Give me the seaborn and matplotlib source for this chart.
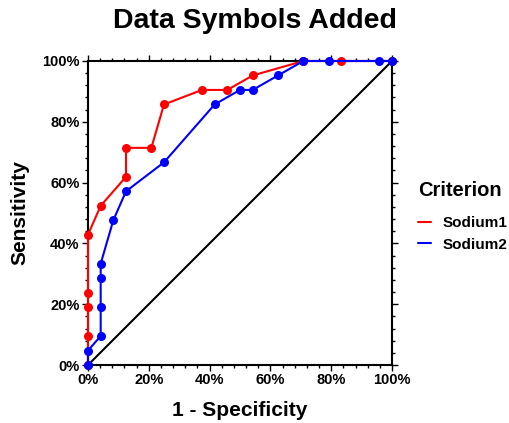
import matplotlib
matplotlib.use("Agg")
import matplotlib.pyplot as plt
from matplotlib.lines import Line2D
from matplotlib.ticker import MultipleLocator, FuncFormatter
import seaborn as sns
import pandas as pd

sns.set_style("white")
plt.rcParams['font.family'] = ['Liberation Sans', 'DejaVu Sans']
plt.rcParams['font.weight'] = 'bold'
for k in ['text.color', 'axes.labelcolor', 'xtick.color', 'ytick.color', 'axes.edgecolor']:
    plt.rcParams[k] = 'black'

# Data (percent)
sodium1_fpr = [0, 0, 0, 0, 0, 4.17, 12.5, 12.5, 20.83, 25.0, 37.5, 45.83, 54.17, 70.83, 83.33, 100]
sodium1_tpr = [0, 9.52, 19.05, 23.81, 42.86, 52.38, 61.90, 71.43, 71.43, 85.71, 90.48, 90.48, 95.24, 100, 100, 100]
sodium2_fpr = [0, 0, 4.17, 4.17, 4.17, 4.17, 8.33, 12.5, 25.0, 41.67, 50.0, 54.17, 62.5, 70.83, 79.17, 95.83, 100]
sodium2_tpr = [0, 4.76, 9.52, 19.05, 28.57, 33.33, 47.62, 57.14, 66.67, 85.71, 90.48, 90.48, 95.24, 100, 100, 100, 100]
ref_x = [0, 100]
ref_y = [0, 100]
series_names = ["Sodium1", "Sodium2"]
series_colors = ["#FF0000", "#0000FF"]

fig = plt.figure(figsize=(5.09, 4.23), dpi=100)
ax = fig.add_axes([88/509, 58/423, 304/509, 304/423])

sns.lineplot(x=ref_x, y=ref_y, ax=ax, color="black", linewidth=1.5, sort=False, estimator=None)
for fx, ty, name, col in [(sodium1_fpr, sodium1_tpr, series_names[0], series_colors[0]),
                          (sodium2_fpr, sodium2_tpr, series_names[1], series_colors[1])]:
    df = pd.DataFrame({"x": fx, "y": ty})
    sns.lineplot(data=df, x="x", y="y", ax=ax, color=col, linewidth=1.5, sort=False,
                 estimator=None, marker="o", markersize=6.5, markeredgewidth=0, label=name,
                 clip_on=False, zorder=5)

ax.set_xlim(0, 100)
ax.set_ylim(0, 100)
ax.xaxis.set_major_locator(MultipleLocator(20))
ax.yaxis.set_major_locator(MultipleLocator(20))
ax.xaxis.set_minor_locator(MultipleLocator(4))
ax.yaxis.set_minor_locator(MultipleLocator(4))
fmt = FuncFormatter(lambda v, p: f"{v:.0f}%")
ax.xaxis.set_major_formatter(fmt)
ax.yaxis.set_major_formatter(fmt)
ax.tick_params(which="both", direction="out", top=True, right=True, bottom=True, left=True,
               labeltop=False, labelright=False, color="black", width=1)
ax.tick_params(which="major", length=4, labelsize=10.5, pad=2)
ax.tick_params(which="minor", length=2.5)
for lab in ax.get_xticklabels() + ax.get_yticklabels():
    lab.set_fontweight("bold")
for s in ax.spines.values():
    s.set_visible(True)
    s.set_color("black")
    s.set_linewidth(1.5)

ax.set_xlabel("1 - Specificity", fontsize=15, fontweight="bold", labelpad=10)
ax.set_ylabel("Sensitivity", fontsize=15, fontweight="bold", labelpad=9)
fig.suptitle("Data Symbols Added", fontsize=20.5, fontweight="bold", y=0.98)

# Legend title and entries
fig.text(418/509, 1 - 190/423, "Criterion", fontsize=14.5, fontweight="bold",
         ha="left", va="center")
handles = [Line2D([0], [0], color=c, linewidth=1.5) for c in series_colors]
leg = fig.legend(handles, series_names, loc="upper left",
                 bbox_to_anchor=(418/509, 1 - 216/423), frameon=False, borderpad=0,
                 borderaxespad=0, prop={"size": 11, "weight": "bold"}, handlelength=0.85,
                 handletextpad=0.75, labelspacing=0.5)
if ax.get_legend():
    ax.get_legend().remove()

fig.savefig("out.png", dpi=100)
